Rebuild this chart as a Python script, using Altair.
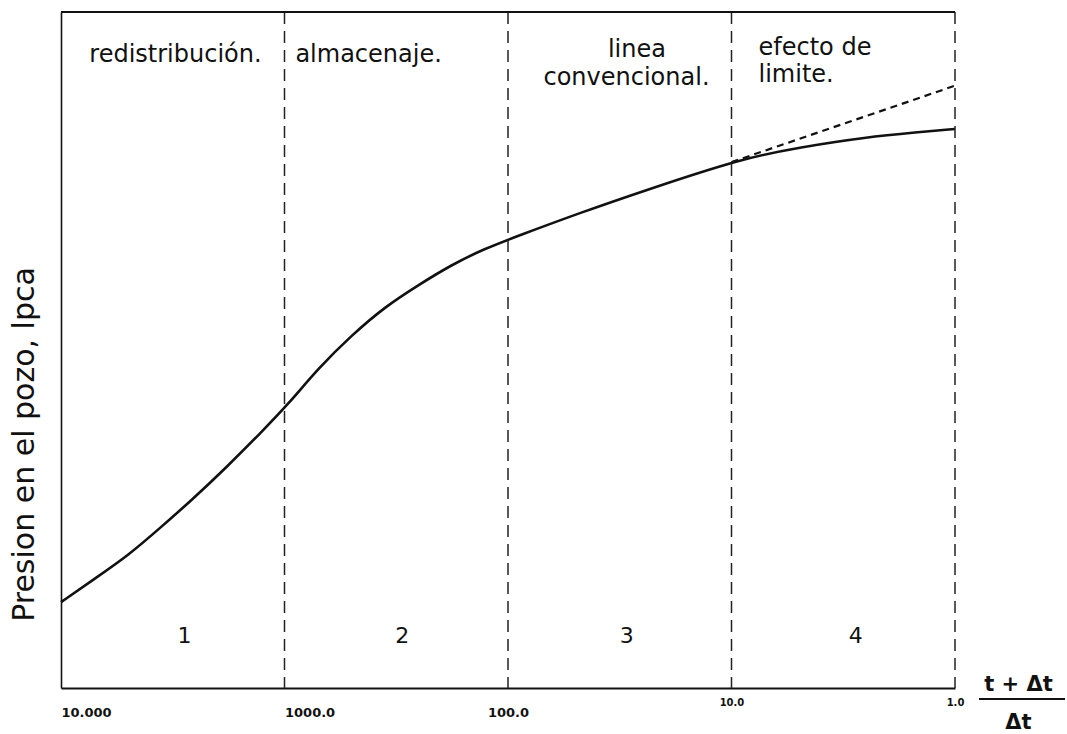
import altair as alt
import pandas as pd

# Horner plot: well pressure vs. (t+Δt)/Δt on a reversed log axis
ratio = [10000, 7050, 5000, 3540, 2600, 1785, 1265, 961, 706, 500, 355,
         252, 179, 127, 91.5, 47.6, 23.9, 9.06, 4.94, 2.48, 1.48, 1]
pressure = [12.7, 16.2, 19.6, 23.9, 27.8, 32.9, 37.9, 42.0, 47.3, 52.2, 56.4,
            59.6, 62.6, 65.0, 66.8, 70.3, 73.7, 78.3, 80.0, 81.5, 82.2, 82.7]

# straight-line extrapolation of the conventional (semilog) line
ext_ratio = [10, 1]
ext_pressure = [77.8, 89.1]

# limits between flow regions
bounds = [1000, 100, 10, 1]
tick_values = [10000, 1000, 100, 10, 1]

# region captions
left_names = ["redistribución.", "almacenaje.", "efecto de", "limite."]
left_x = [7470, 894, 7.57, 7.57]
left_y = [92.6, 92.6, 93.6, 89.6]
center_names = ["linea", "convencional."]
center_x = [26.5, 29.5]
center_y = [93.3, 89.2]

# region numbers
num_labels = ["1", "2", "3", "4"]
num_x = [2800, 297, 29.4, 2.78]
num_y = [7.7, 7.7, 7.7, 7.7]

curve = pd.DataFrame({"t": ratio, "p": pressure})
ext = pd.DataFrame({"t": ext_ratio, "p": ext_pressure})
lines = pd.DataFrame({"t": bounds})
left_txt = pd.DataFrame({"t": left_x, "p": left_y, "label": left_names})
center_txt = pd.DataFrame({"t": center_x, "p": center_y, "label": center_names})
nums = pd.DataFrame({"t": num_x, "p": num_y, "label": num_labels})

W, H = 894, 676
FONT = "DejaVu Sans"

x_enc = alt.X(
    "t:Q",
    scale=alt.Scale(type="log", domain=[1, 10000], reverse=True, nice=False),
    axis=alt.Axis(
        values=tick_values,
        labelExpr="datum.value == 10000 ? '10.000' : format(datum.value, '.1f')",
        labelFont=FONT,
        labelFontWeight="bold",
        labelFontSize={"condition": {"test": "datum.value <= 10", "value": 10}, "value": 13},
        labelAlign={"condition": {"test": "datum.value >= 1000", "value": "left"}, "value": "center"},
        labelPadding={"condition": {"test": "datum.value <= 10", "value": 9}, "value": 18},
        labelBaseline="top",
        labelColor="#111",
        labelFlush=False,
        labelOverlap=False,
        ticks=False,
        tickSize=0,
        grid=False,
        domainColor="#111",
        domainWidth=2,
        title=["t + Δt", "Δt"],
        titleFont=FONT,
        titleFontSize=21,
        titleFontWeight="bold",
        titleColor="#111",
        titleX=957,
        titleY=2,
        titleAlign="center",
        titleBaseline="alphabetic",
        titleLineHeight=38,
    ),
)

y_enc = alt.Y(
    "p:Q",
    scale=alt.Scale(domain=[0, 100], nice=False),
    axis=alt.Axis(
        labels=False,
        ticks=False,
        grid=False,
        domainColor="#111",
        domainWidth=1.6,
        title="Presion en el pozo, lpca",
        titleFont=FONT,
        titleFontSize=30,
        titleFontWeight="normal",
        titleColor="#111",
        titleAngle=270,
        titleX=-28,
        titleY=432,
        titleAlign="center",
        titleBaseline="alphabetic",
    ),
)

# smooth build-up curve through the read points
curve_line = alt.Chart(curve).mark_line(
    interpolate="basis", color="#111", strokeWidth=2.6
).encode(x=x_enc, y=y_enc, order=alt.Order("t:Q", sort="descending"))

ext_line = alt.Chart(ext).mark_line(
    color="#111", strokeWidth=2.2, strokeDash=[7, 5]
).encode(x=x_enc, y=y_enc)

bound_rules = alt.Chart(lines).mark_rule(
    color="#222", strokeWidth=1.5, strokeDash=[12, 7]
).encode(x=x_enc)

top_rule = alt.Chart(curve).mark_rule(color="#111", strokeWidth=2).encode(
    x=alt.value(0), x2=alt.value(W), y=alt.value(0)
)

frac_bar = alt.Chart(curve).mark_rule(color="#111", strokeWidth=2.2).encode(
    x=alt.value(918), x2=alt.value(1004), y=alt.value(687)
)

left_text = alt.Chart(left_txt).mark_text(
    align="left", baseline="alphabetic", font=FONT, fontSize=24, color="#111"
).encode(x=x_enc, y=y_enc, text="label:N")

center_text = alt.Chart(center_txt).mark_text(
    align="center", baseline="alphabetic", font=FONT, fontSize=24, color="#111"
).encode(x=x_enc, y=y_enc, text="label:N")

num_text = alt.Chart(nums).mark_text(
    align="center", baseline="middle", font=FONT, fontSize=22, color="#111"
).encode(x=x_enc, y=y_enc, text="label:N")

chart = alt.layer(
    curve_line, ext_line, bound_rules, top_rule, frac_bar,
    left_text, center_text, num_text,
).properties(
    width=W,
    height=H,
    autosize="none",
    padding={"left": 61, "top": 12, "right": 112, "bottom": 46},
    background="white",
).configure_view(stroke=None)

chart.save("out.html", embed_options={"renderer": "svg", "actions": False})
